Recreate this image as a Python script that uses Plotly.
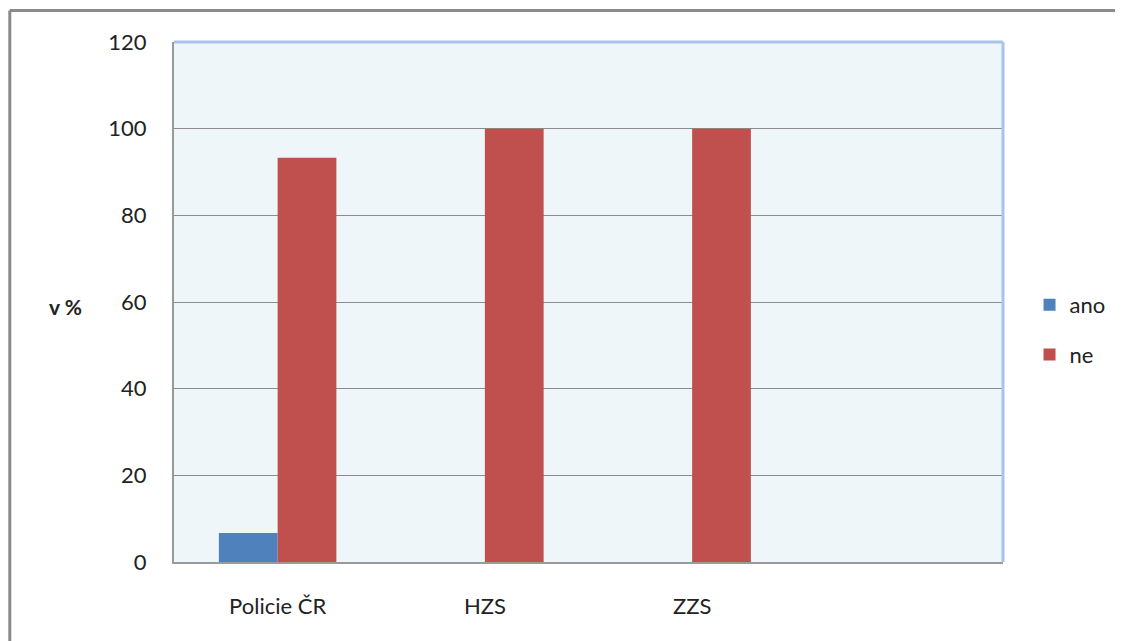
import plotly.graph_objects as go

categories = ["Policie ČR", "HZS", "ZZS", " "]
ano_values = [6.7, None, None]
ne_values = [93.3, 100, 100]
y_ticks = [0, 20, 40, 60, 80, 100, 120]

font_family = "Lato, 'Open Sans', sans-serif"

# plot area in figure pixels (page has an 8px body offset)
FW, FH = 1115, 633
L, T, W, H = 166, 34, 833, 520

fig = go.Figure()
fig.add_trace(go.Bar(name="ano", x=categories[:3], y=ano_values, legendgroup="a",
                     marker=dict(color="#4F81BD", line=dict(width=0))))
fig.add_trace(go.Bar(name="ne", x=categories[:3], y=ne_values, legendgroup="b",
                     marker=dict(color="#C0504D", line=dict(width=0))))

fig.update_layout(
    width=FW, height=FH,
    margin=dict(l=L, r=FW - L - W, t=T, b=FH - T - H),
    paper_bgcolor="white",
    plot_bgcolor="#EEF6FA",
    barmode="group",
    bargap=0.433,
    bargroupgap=0,
    font=dict(family=font_family, size=22, color="#222222"),
    legend=dict(x=1.032, y=(T + H - 322) / H, xanchor="left", yanchor="middle",
                font=dict(size=22), tracegroupgap=18, itemwidth=30,
                bgcolor="rgba(0,0,0,0)"),
    xaxis=dict(type="category", categoryorder="array", categoryarray=categories,
               range=[-0.5, 3.5], showgrid=False, showline=True,
               linecolor="#9a9a9a", linewidth=2, ticks="", ticklabelstandoff=24,
               tickfont=dict(size=22), mirror=False, zeroline=False),
    yaxis=dict(range=[0, 120], tickvals=y_ticks, showgrid=True,
               gridcolor="#8c8c8c", gridwidth=1.3, showline=True,
               linecolor="#9a9a9a", linewidth=2, ticks="", ticklabelstandoff=21,
               tickfont=dict(size=22), zeroline=False),
    shapes=[
        dict(type="line", xref="paper", yref="paper", x0=0, x1=1, y0=1, y1=1,
             line=dict(color="#A8C3EB", width=3)),
        dict(type="line", xref="paper", yref="paper", x0=1, x1=1, y0=0, y1=1,
             line=dict(color="#A8C3EB", width=3)),
        dict(type="line", xref="paper", yref="paper",
             x0=(1 - L) / W, x1=(1 - L) / W, y0=-1.0, y1=1 + (T - 2.5) / H,
             line=dict(color="#8a8a8a", width=3)),
        dict(type="line", xref="paper", yref="paper",
             x0=(1 - L) / W, x1=2.0, y0=1 + (T - 2.5) / H, y1=1 + (T - 2.5) / H,
             line=dict(color="#8a8a8a", width=3)),
    ],
    annotations=[
        dict(text="<b>v %</b>", xref="paper", yref="paper",
             x=(57 - L) / W, y=(T + H - 298) / H, xanchor="center", yanchor="middle",
             showarrow=False, font=dict(size=21, color="#222222")),
    ],
)

fig.write_html("out.html")
